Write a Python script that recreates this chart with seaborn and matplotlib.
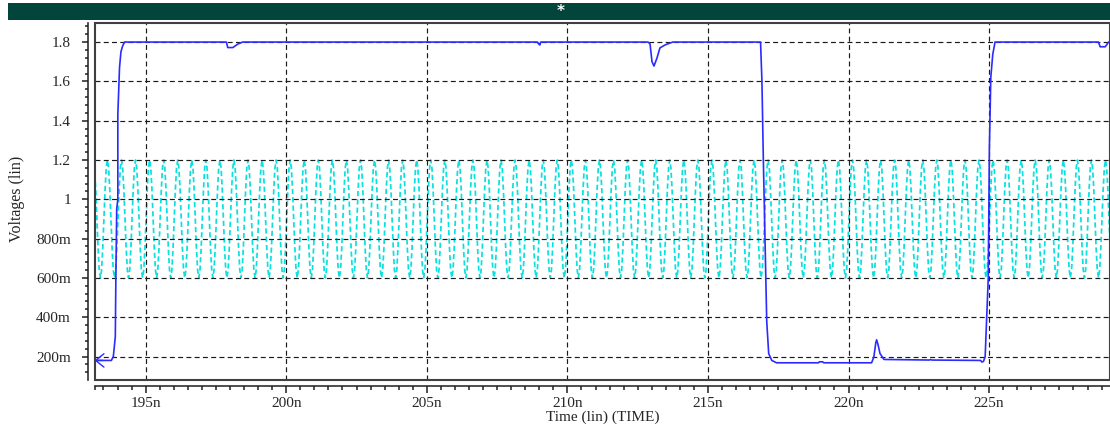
import numpy as np
import matplotlib
matplotlib.use("Agg")
import matplotlib.pyplot as plt
from matplotlib.patches import Rectangle
from matplotlib.ticker import FixedLocator, MultipleLocator
import seaborn as sns

# ---- output node (blue), time in ns, voltage in V ----
out_t = [193.18, 193.78, 193.85, 193.92, 193.94, 193.97, 194.01, 194.01, 194.07, 194.12, 194.18, 194.25,
         197.87, 197.92, 198.10, 198.28, 198.45,
         208.93, 208.98, 209.02, 209.05,
         212.87, 212.94, 213.01, 213.08, 213.19, 213.29, 213.47, 213.65, 213.75,
         216.87, 216.92, 216.97, 217.09, 217.16, 217.27, 217.44,
         218.93, 218.96, 219.08, 219.12,
         220.82, 220.90, 220.97, 221.00, 221.05, 221.12, 221.26,
         222.88, 222.92, 222.96,
         224.70, 224.74, 224.80, 224.86, 224.92, 224.97, 225.01, 225.06, 225.13, 225.21,
         228.89, 228.95, 229.13, 229.25, 229.30]
out_v = [0.180, 0.180, 0.200, 0.300, 0.600, 0.950, 1.000, 1.430, 1.670, 1.750, 1.780, 1.800,
         1.800, 1.772, 1.772, 1.790, 1.800,
         1.800, 1.790, 1.785, 1.800,
         1.800, 1.790, 1.700, 1.678, 1.720, 1.770, 1.785, 1.795, 1.800,
         1.800, 1.600, 1.200, 0.380, 0.215, 0.180, 0.168,
         0.168, 0.173, 0.173, 0.168,
         0.168, 0.197, 0.270, 0.285, 0.260, 0.215, 0.185,
         0.182, 0.185, 0.182,
         0.180, 0.172, 0.175, 0.200, 0.420, 0.600, 1.260, 1.620, 1.737, 1.800,
         1.800, 1.776, 1.776, 1.800, 1.800]

# ---- clock input (cyan): one cycle of the waveform, repeated ----
clk_cycle = [1.20, 1.16, 1.05, 0.90, 0.75, 0.64, 0.60, 0.64, 0.75, 0.90, 1.05, 1.16]
clk_period = 0.5          # ns
clk_first_peak = 192.64   # ns
clk_cycles = 75

# ---- axes ----
x_range = (193.18, 229.30)
y_range = (0.083, 1.897)
x_ticks = [195, 200, 205, 210, 215, 220, 225]
x_labels = ["195n", "200n", "205n", "210n", "215n", "220n", "225n"]
y_ticks = [0.2, 0.4, 0.6, 0.8, 1.0, 1.2, 1.4, 1.6, 1.8]
y_labels = ["200m", "400m", "600m", "800m", "1", "1.2", "1.4", "1.6", "1.8"]

sns.set_style("white")
plt.rcParams["font.family"] = ["Liberation Serif", "DejaVu Serif"]
plt.rcParams["font.size"] = 11

W, H = 1110, 430
fig = plt.figure(figsize=(W / 100, H / 100), dpi=100)
fig.patch.set_facecolor("white")

# title strip
fig.patches.append(Rectangle((8 / W, 1 - 20 / H), 1 - 8 / W, 17 / H, transform=fig.transFigure,
                             facecolor="#03453b", edgecolor="none"))
fig.text(561 / W, 1 - 11.5 / H, "*", color="white", ha="center", va="center",
         fontsize=11, fontweight="bold", family="DejaVu Sans")

left, right, top, bottom = 94.5, 1110, 23, 379.5
ax = fig.add_axes([left / W, 1 - bottom / H, (right - left) / W, (bottom - top) / H])
ax.set_facecolor("white")

# clock trace
n = len(clk_cycle)
idx = np.arange(clk_cycles * n + 1)
clk_t = clk_first_peak + idx * (clk_period / n)
clk_v = np.array(clk_cycle * (clk_cycles + 1))[: len(idx)]
sns.lineplot(x=clk_t, y=clk_v, ax=ax, color="#0ae0e0", lw=1.25, linestyle=(0, (3, 1.8)),
             estimator=None, sort=False, zorder=2)

# output trace
sns.lineplot(x=out_t, y=out_v, ax=ax, color="#2b2bff", lw=1.2,
             estimator=None, sort=False, zorder=4)
ax.annotate("", xy=(out_t[0], out_v[0]), xytext=(out_t[0] + 0.3, out_v[0]),
            arrowprops=dict(arrowstyle="->,head_length=0.5,head_width=0.4", color="#2b2bff",
                            lw=1.0, mutation_scale=12, shrinkA=0, shrinkB=0),
            zorder=5, annotation_clip=False)

ax.set_xlim(*x_range)
ax.set_ylim(*y_range)

ax.xaxis.set_major_locator(FixedLocator(x_ticks))
ax.set_xticklabels(x_labels)
ax.xaxis.set_minor_locator(FixedLocator([x_range[0]] + list(np.arange(193.5, 229.3, 0.5))))
ax.yaxis.set_major_locator(FixedLocator(y_ticks))
ax.set_yticklabels(y_labels)
ax.yaxis.set_minor_locator(MultipleLocator(0.04))

ax.grid(True, which="major", color="#1a1a1a", lw=0.85, linestyle=(0, (4.2, 2.8)), zorder=3)
ax.set_axisbelow(False)
for gl in ax.get_xgridlines() + ax.get_ygridlines():
    gl.set_zorder(3)

# rulers offset from the plot frame
for s in ("top", "right"):
    ax.spines[s].set_visible(False)
for s in ("left", "bottom"):
    ax.spines[s].set_position(("outward", 5))
    ax.spines[s].set_color("#303030")
    ax.spines[s].set_linewidth(1.2)
ax.add_patch(Rectangle((0, 0), 1, 1, transform=ax.transAxes, fill=False,
                       edgecolor="#404040", lw=1.5, clip_on=False, zorder=6))

ax.tick_params(axis="x", which="major", direction="out", length=5, width=1.1, color="#202020",
               pad=2.5, labelsize=11, bottom=True)
ax.tick_params(axis="x", which="minor", direction="out", length=3, width=1.1, color="#202020",
               bottom=True)
ax.tick_params(axis="y", which="major", direction="out", length=4, width=1.1, color="#202020",
               pad=8, labelsize=11, left=True)
ax.tick_params(axis="y", which="minor", direction="out", length=2.2, width=1.1, color="#202020",
               left=True)

ax.set_xlabel("Time (lin) (TIME)", fontsize=11)
ax.xaxis.set_label_coords(0.5, -(411 - bottom) / (bottom - top))
ax.set_ylabel("Voltages (lin)", fontsize=11.5)
ax.yaxis.set_label_coords(-(left - 25) / (right - left), (bottom - 199) / (bottom - top))

fig.savefig("out.png", dpi=100, facecolor="white")
